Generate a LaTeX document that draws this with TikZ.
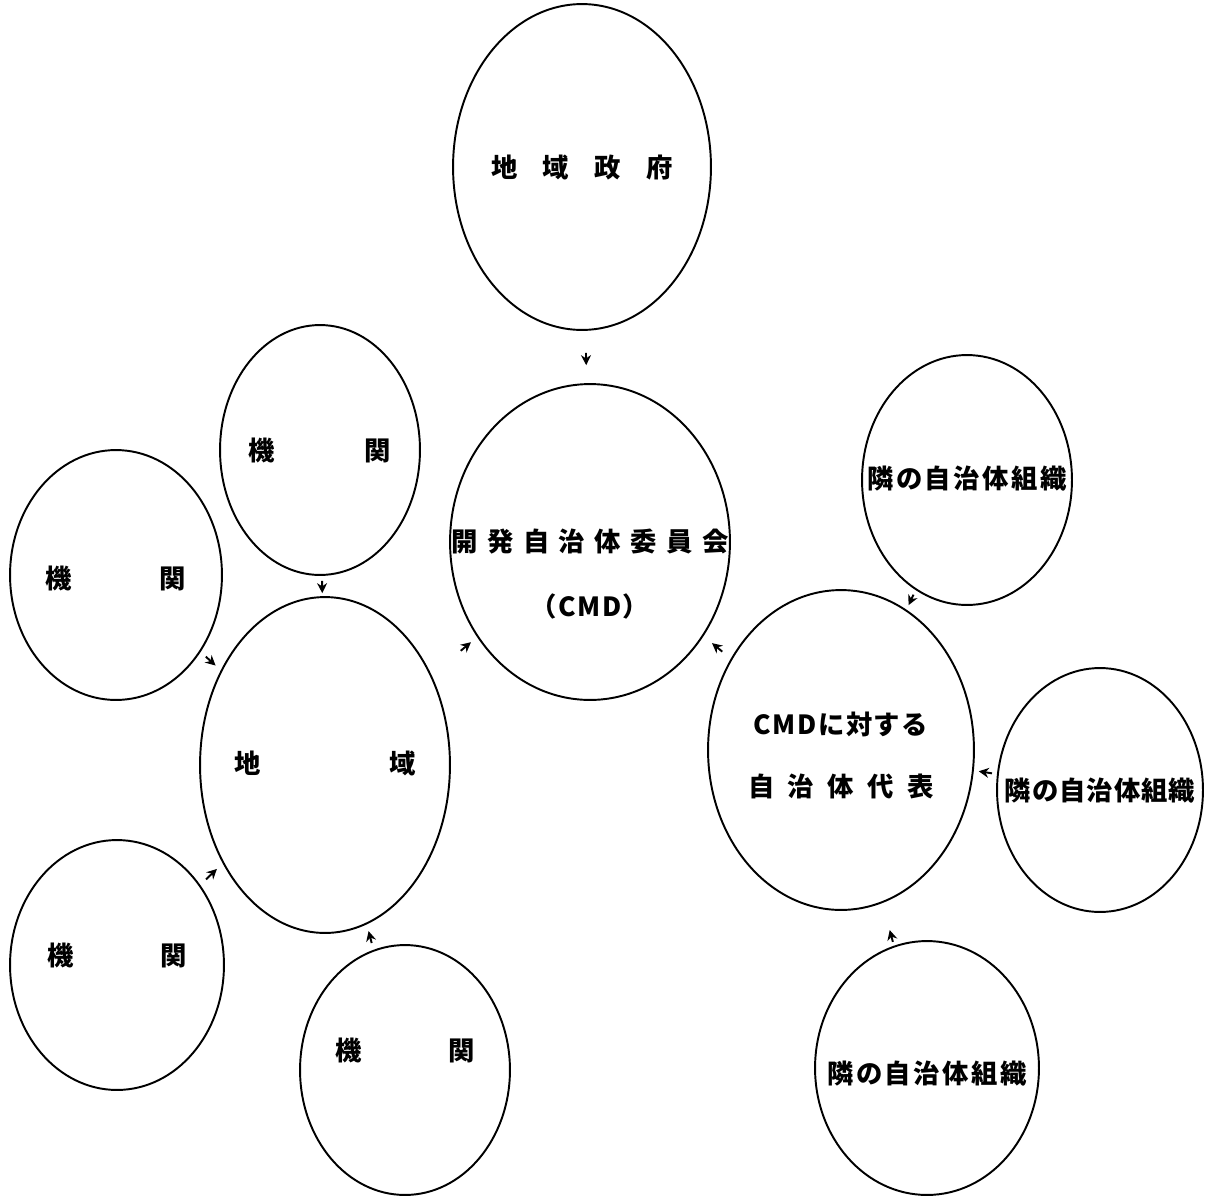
\documentclass[tikz,border=0pt]{standalone}
\usepackage{fontspec}
\newfontfamily\jp{Noto Sans CJK JP}
\usetikzlibrary{shapes.geometric,arrows.meta}
\newcommand\gp[1]{\hspace{#1}}
% zero-size text box, shifted vertically by #1
\newcommand\zt[2]{\raisebox{#1}[0pt][0pt]{\makebox[0pt]{#2}}}
\begin{document}
\begin{tikzpicture}[x=0.02cm,y=-0.02cm,
  ell/.style 2 args={ellipse,draw,line width=1.1pt,inner sep=0pt,
    minimum width=#1*0.04cm,minimum height=#2*0.04cm,
    font=\jp\bfseries\fontsize{15}{18}\selectfont},
  arr/.style={-{Stealth[length=0.2cm,width=0.2cm]},line width=1.1pt}]
\fill[white] (0,0) rectangle (1207,1201);
\useasboundingbox (0,0) rectangle (1207,1201);

\node[ell={129}{163}] (gov) at (582,167) {\zt{-0.2cm}{地\gp{0.51cm}域\gp{0.51cm}政\gp{0.51cm}府}};
\node[ell={140}{158}] (cmd) at (590,542) {\zt{-0.84cm}{\begin{tabular}{@{}c@{}}開\gp{0.19cm}発\gp{0.19cm}自\gp{0.19cm}治\gp{0.19cm}体\gp{0.19cm}委\gp{0.19cm}員\gp{0.19cm}会\\[0.665cm]（\gp{0.03cm}C\gp{0.03cm}M\gp{0.03cm}D\gp{0.03cm}）\end{tabular}}};
\node[ell={100}{125}] (kT) at (320,450) {\zt{-0.2cm}{機\gp{1.79cm}関}};
\node[ell={106}{125}] (kL) at (116,575) {\zt{-0.26cm}{機\gp{1.75cm}関}};
\node[ell={125}{168}] (chiiki) at (325,765) {\zt{-0.16cm}{地\gp{2.57cm}域}};
\node[ell={107}{125}] (kBL) at (117,965) {\zt{0cm}{機\gp{1.73cm}関}};
\node[ell={105}{125}] (kB) at (405,1070) {\zt{0.2cm}{機\gp{1.73cm}関}};
\node[ell={105}{125}] (rTR) at (967,480) {\zt{-0.16cm}{隣\gp{0.05cm}の\gp{0.05cm}自\gp{0.05cm}治\gp{0.05cm}体\gp{0.05cm}組\gp{0.05cm}織}};
\node[ell={133}{160}] (dai) at (841,750) {\zt{-0.31cm}{\begin{tabular}{@{}c@{}}C\gp{0.03cm}M\gp{0.03cm}D\gp{0.03cm}に\gp{0.03cm}対\gp{0.03cm}す\gp{0.03cm}る\\[0.605cm]自\gp{0.27cm}治\gp{0.27cm}体\gp{0.27cm}代\gp{0.27cm}表\end{tabular}}};
\node[ell={103}{122}] (rR) at (1100,790) {\zt{-0.2cm}{隣\gp{0.02cm}の\gp{0.02cm}自\gp{0.02cm}治\gp{0.02cm}体\gp{0.02cm}組\gp{0.02cm}織}};
\node[ell={112}{127}] (rB) at (927,1068) {\zt{-0.3cm}{隣\gp{0.05cm}の\gp{0.05cm}自\gp{0.05cm}治\gp{0.05cm}体\gp{0.05cm}組\gp{0.05cm}織}};

\draw[arr,shorten <=0.44cm,shorten >=0.36cm] (gov) -- (cmd);
\draw[arr,shorten <=0.10cm,shorten >=0.06cm] (kT) -- (chiiki);
\draw[arr,shorten <=0.14cm,shorten >=0.14cm] (kL) -- (chiiki);
\draw[arr,shorten <=0.76cm,shorten >=0.16cm] (chiiki) -- (cmd);
\draw[arr,shorten <=0.22cm,shorten >=0.22cm] (dai) -- (cmd);
\draw[arr,shorten <=0.10cm,shorten >=0.10cm] (rTR) -- (dai);
\draw[arr,shorten <=0.10cm,shorten >=0.10cm] (rR) -- (dai);
\draw[arr,shorten <=0.08cm,shorten >=0.56cm] (rB) -- (dai);
\draw[arr,shorten <=0.14cm,shorten >=0.14cm] (kB) -- (chiiki);
\draw[arr,shorten <=0.16cm,shorten >=0.16cm] (kBL) -- (chiiki);
\end{tikzpicture}
\end{document}
